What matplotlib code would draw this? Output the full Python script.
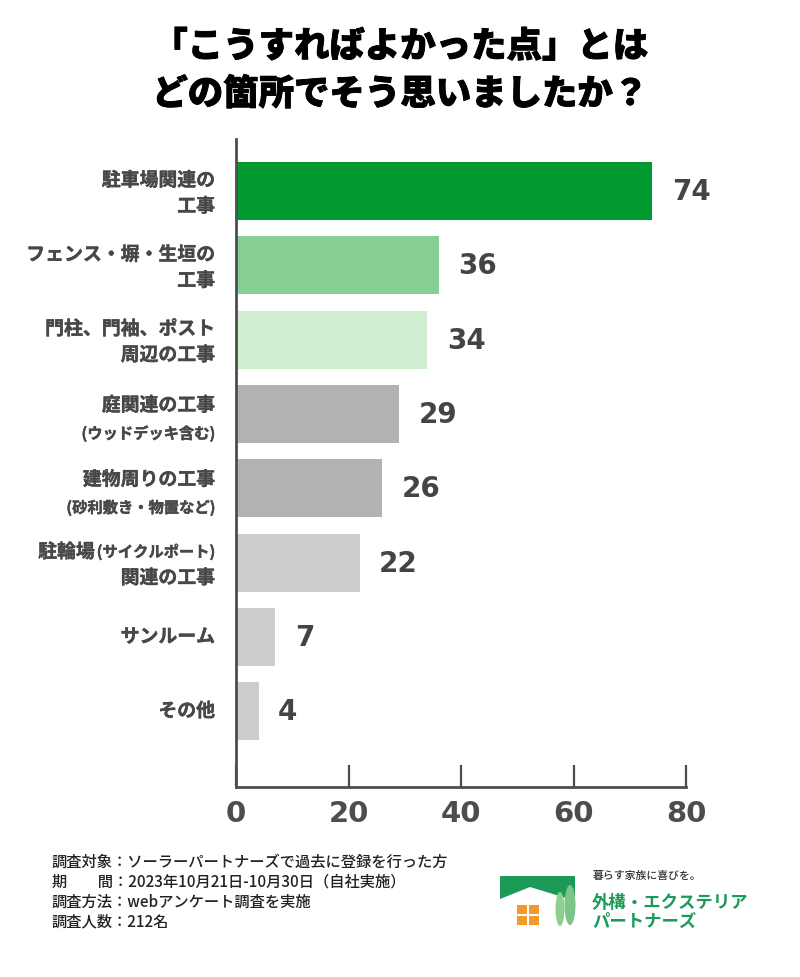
import re
import matplotlib
matplotlib.use("Agg")
import matplotlib.pyplot as plt
import matplotlib.patheffects as pe
from matplotlib.patches import Polygon, Rectangle, Ellipse

plt.rcParams['font.family'] = ['Noto Sans CJK JP', 'DejaVu Sans']

# ---------------- data ----------------
title = "「こうすればよかった点」とは\nどの箇所でそう思いましたか？"
categories = [
    "駐車場関連の\n工事",
    "フェンス・塀・生垣の\n工事",
    "門柱、門袖、ポスト\n周辺の工事",
    "庭関連の工事\n(ウッドデッキ含む)",
    "建物周りの工事\n(砂利敷き・物置など)",
    "駐輪場(サイクルポート)\n関連の工事",
    "サンルーム",
    "その他",
]
values = [74, 36, 34, 29, 26, 22, 7, 4]
bar_colors = ["#009a31", "#86d095", "#cfedcf", "#b3b3b3", "#b3b3b3",
              "#cccccc", "#cccccc", "#cccccc"]
xticks = [0, 20, 40, 60, 80]
footer = [
    "調査対象：ソーラーパートナーズで過去に登録を行った方",
    "期　　間：2023年10月21日-10月30日（自社実施）",
    "調査方法：webアンケート調査を実施",
    "調査人数：212名",
]
logo_tag = "暮らす家族に喜びを。"
logo_name = ["外構・エクステリア", "パートナーズ"]

W, H = 800, 978
fig = plt.figure(figsize=(W / 100, H / 100), dpi=100)
fig.patch.set_facecolor("white")

def fx(px):
    return px / W

def fy(py):
    return 1 - py / H

ax = fig.add_axes([fx(236), fy(788), fx(686) - fx(236), fy(140) - fy(788)])
ypos = list(range(len(values)))
ax.barh(ypos, values, height=0.78, color=bar_colors, zorder=2)
ax.set_xlim(0, 80)
ax.set_ylim(len(values) - 1 + 1.02, -0.7)

dark = "#4d4d4d"
num_font = ["DejaVu Sans"]
for s in ["top", "right"]:
    ax.spines[s].set_visible(False)
for s in ["left", "bottom"]:
    ax.spines[s].set_color(dark)
    ax.spines[s].set_linewidth(2.0)
ax.set_yticks([])
ax.set_xticks(xticks)
ax.set_xticklabels([str(t) for t in xticks], fontsize=21, fontweight="bold",
                   color=dark, family=num_font)
ax.tick_params(axis="x", direction="in", length=16, width=1.6, color=dark, pad=9)

for i, v in enumerate(values):
    ax.annotate(str(v), xy=(v, i), xytext=(14, 0), textcoords="offset points",
                va="center", ha="left", fontsize=20, fontweight="bold",
                color="#444444", family=num_font)

# category labels (right aligned, mixed sizes)
fig.canvas.draw()
renderer = fig.canvas.get_renderer()
label_color = "#484848"
stroke = [pe.withStroke(linewidth=0.3, foreground=label_color)]
right_px = 215
for i, cat in enumerate(categories):
    lines = cat.split("\n")
    cy_disp = ax.transData.transform((0, i))[1]
    if len(lines) == 1:
        offsets = [0]
    else:
        small2 = lines[1].startswith("(")
        offsets = [8.5, -19.5] if small2 else [10.5, -15.5]
    for line, off in zip(lines, offsets):
        parts = [p for p in re.split(r"(\([^)]*\))", line) if p]
        xr = right_px
        for part in reversed(parts):
            small = part.startswith("(")
            fs = 11 if small else 13.6
            t = fig.text(xr / W, (cy_disp + off) / H, part, ha="right", va="center",
                         fontsize=fs, fontweight="bold", color=label_color,
                         path_effects=stroke)
            bb = t.get_window_extent(renderer)
            xr = bb.x0 - (2 if small else 0)

# title
fig.text(0.5, fy(71), title, ha="center", va="center", fontsize=25.5,
         fontweight="black", color="black", linespacing=1.4,
         path_effects=[pe.withStroke(linewidth=0.6, foreground="black")])

# footer
for k, line in enumerate(footer):
    fig.text(fx(52), fy(862 + k * 20), line, ha="left", va="center",
             fontsize=11, fontweight="medium", color="#222222")

# logo
green = "#1d9a58"
roof = Polygon([(fx(500), fy(877)), (fx(575), fy(877)), (fx(575), fy(899)),
                (fx(566), fy(899)), (fx(530), fy(888)), (fx(500), fy(900))],
               closed=True, transform=fig.transFigure, facecolor=green,
               edgecolor="none")
fig.patches.append(roof)
for dx in (0, 1):
    for dy in (0, 1):
        fig.patches.append(Rectangle((fx(517 + dx * 12), fy(915 + dy * 11)),
                                     10 / W, 9 / H, transform=fig.transFigure,
                                     facecolor="#f39a2b", edgecolor="none"))
fig.patches.append(Ellipse((fx(560), fy(910)), 9 / W, 34 / H,
                           transform=fig.transFigure, facecolor="#8fcf8f",
                           edgecolor="none"))
fig.patches.append(Ellipse((fx(570), fy(906)), 11 / W, 40 / H,
                           transform=fig.transFigure, facecolor="#7cc48a",
                           edgecolor="none"))
fig.text(fx(593), fy(876), logo_tag, ha="left", va="center", fontsize=7.8,
         color="#333333", fontweight="medium")
fig.text(fx(592), fy(903), logo_name[0], ha="left", va="center", fontsize=12.5,
         color=green, fontweight="bold")
fig.text(fx(592), fy(922), logo_name[1], ha="left", va="center", fontsize=12.5,
         color=green, fontweight="bold")

fig.savefig("out.png", dpi=100, facecolor="white")
